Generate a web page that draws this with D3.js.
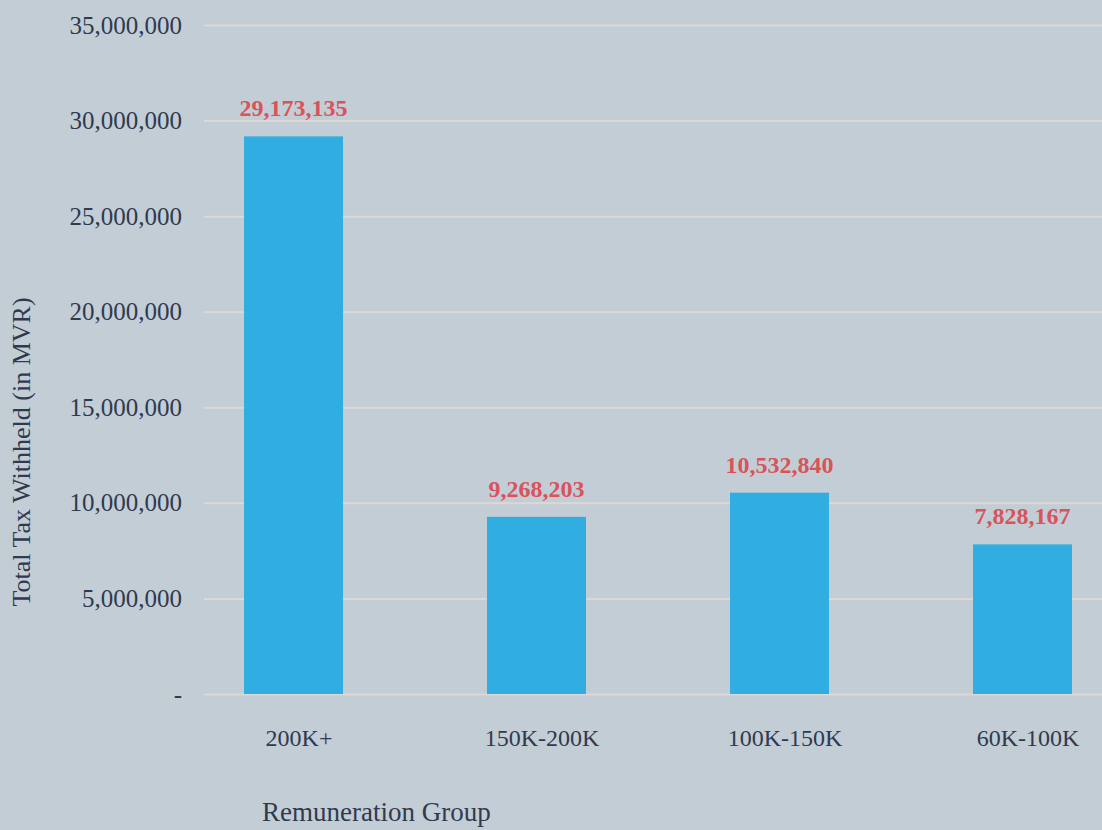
<!DOCTYPE html>
<html>
<head>
<meta charset="UTF-8">
<title>Total Tax Withheld by Remuneration Group</title>
<script src="https://cdn.jsdelivr.net/npm/d3@7"></script>
<style>
  html, body { margin: 0; padding: 0; background: #c3cdd6; }
  svg { display: block; }
  text { font-family: 'Liberation Serif', 'DejaVu Serif', serif; fill: #2f3a4f; }
</style>
</head>
<body>
<div id="chart"></div>
<script>
// data
const groups = ['200K+', '150K-200K', '100K-150K', '60K-100K'];
const taxWithheld = [29173135, 9268203, 10532840, 7828167];
const yTicks = [0, 5000000, 10000000, 15000000, 20000000, 25000000, 30000000, 35000000];

const width = 1102, height = 830;

const svg = d3.select('#chart').append('svg')
  .attr('width', width)
  .attr('height', height);

const x = d3.scalePoint().domain(groups).range([293.5, 1022.5]);
const y = d3.scaleLinear().domain([0, 35000000]).range([694, 25]);
const barW = 99;
const fmt = d3.format(',');

// gridlines + y tick labels
const yAxis = d3.axisLeft(y)
  .tickValues(yTicks)
  .tickSize(-(width - 204))
  .tickPadding(22)
  .tickFormat(d => d === 0 ? '-' : fmt(d));

const gy = svg.append('g')
  .attr('transform', 'translate(204,0)')
  .call(yAxis);
gy.select('.domain').remove();
gy.selectAll('.tick line').attr('stroke', '#dcd8d3').attr('stroke-width', 2);
gy.selectAll('.tick text')
  .attr('fill', '#2f3a4f')
  .attr('font-size', 25)
  .attr('font-family', "'Liberation Serif', serif");

// bars
svg.append('g').selectAll('rect')
  .data(groups)
  .join('rect')
  .attr('x', d => x(d) - barW / 2)
  .attr('y', (d, i) => y(taxWithheld[i]))
  .attr('width', barW)
  .attr('height', (d, i) => y(0) - y(taxWithheld[i]))
  .attr('fill', '#30aee2');

// value labels
svg.append('g').selectAll('text')
  .data(groups)
  .join('text')
  .attr('x', d => x(d))
  .attr('y', (d, i) => y(taxWithheld[i]) - 20)
  .attr('text-anchor', 'middle')
  .attr('font-size', 24)
  .attr('font-weight', 'bold')
  .style('fill', '#d9535a')
  .text((d, i) => fmt(taxWithheld[i]));

// category labels
const xAxis = d3.axisBottom(x).tickSize(0).tickPadding(0);
const gx = svg.append('g')
  .attr('transform', 'translate(5,746)')
  .call(xAxis);
gx.select('.domain').remove();
gx.selectAll('.tick text')
  .attr('fill', '#2f3a4f')
  .attr('font-size', 24)
  .attr('font-family', "'Liberation Serif', serif")
  .attr('dy', 0);

// axis titles
svg.append('text')
  .attr('x', 262)
  .attr('y', 821)
  .attr('font-size', 27)
  .text('Remuneration Group');

svg.append('text')
  .attr('transform', 'translate(30,452) rotate(-90)')
  .attr('text-anchor', 'middle')
  .attr('font-size', 26)
  .text('Total Tax Withheld (in MVR)');
</script>
</body>
</html>
